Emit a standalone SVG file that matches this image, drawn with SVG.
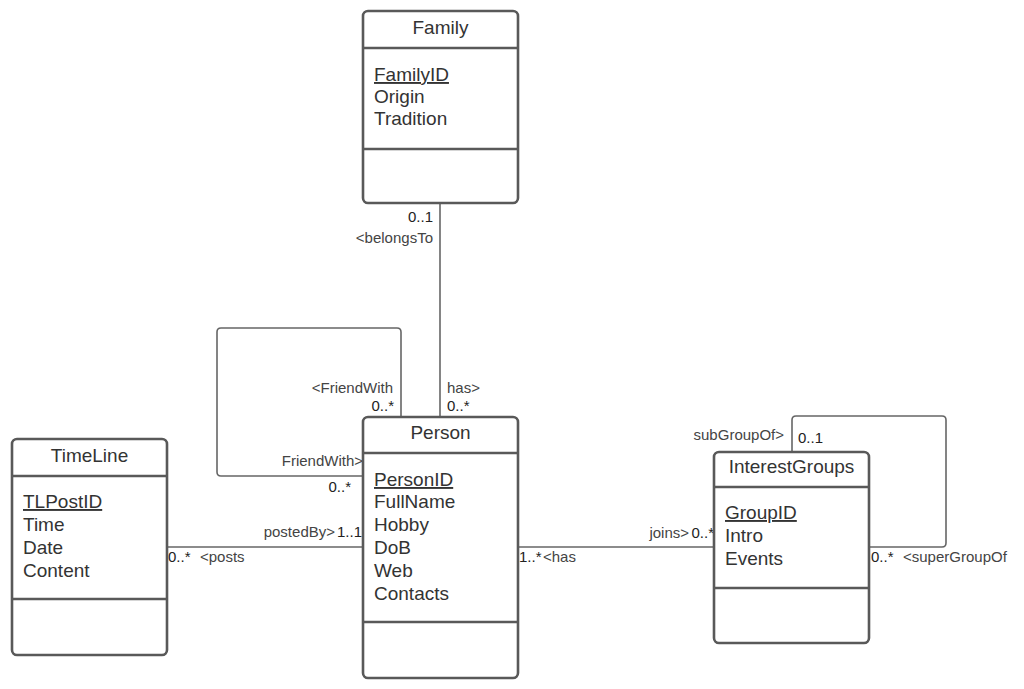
<svg xmlns="http://www.w3.org/2000/svg" width="1024" height="689" viewBox="0 0 1024 689">
<style>
.box{fill:#fff;stroke:#595959;stroke-width:2.6}
.sep{stroke:#595959;stroke-width:2.6}
.title{font-family:"Liberation Sans",Arial,sans-serif;font-size:19px;fill:#333;text-anchor:middle}
.attr{font-family:"Liberation Sans",Arial,sans-serif;font-size:19px;fill:#333}
.pk{text-decoration:underline}
.conn{fill:none;stroke:#666;stroke-width:1.6}
.lbl{font-family:"Liberation Sans",Arial,sans-serif;font-size:15px;fill:#444}
.mul{font-family:"Liberation Sans",Arial,sans-serif;font-size:15px;fill:#222}
.end{text-anchor:end}
</style>
<rect width="1024" height="689" fill="#fff"/>
<g id="connectors">
<path class="conn" d="M440 203 V417"/>
<path class="conn" d="M401 417 V332 Q401 328 397 328 H221 Q217 328 217 332 V472 Q217 476 221 476 H363"/>
<path class="conn" d="M167 547 H363"/>
<path class="conn" d="M518 547 H714"/>
<path class="conn" d="M792 452 V420 Q792 416 796 416 H942 Q946 416 946 420 V543 Q946 547 942 547 H869"/>
<text class="mul end" x="433" y="222">0..1</text>
<text class="lbl end" x="433" y="243">&lt;belongsTo</text>
<text class="lbl" x="447" y="393">has&gt;</text>
<text class="mul" x="447" y="411">0..*</text>
<text class="lbl end" x="393" y="393">&lt;FriendWith</text>
<text class="mul end" x="394" y="411">0..*</text>
<text class="lbl end" x="363" y="466">FriendWith&gt;</text>
<text class="mul end" x="351" y="492">0..*</text>
<text class="lbl end" x="335" y="537">postedBy&gt;</text>
<text class="mul end" x="362" y="537">1..1</text>
<text class="mul" x="168" y="562">0..*</text>
<text class="lbl" x="200" y="562">&lt;posts</text>
<text class="mul" x="519" y="562">1..*</text>
<text class="lbl" x="543" y="562">&lt;has</text>
<text class="lbl end" x="689" y="538">joins&gt;</text>
<text class="mul end" x="714" y="538">0..*</text>
<text class="lbl end" x="784" y="440">subGroupOf&gt;</text>
<text class="mul" x="798" y="443">0..1</text>
<text class="mul" x="871" y="562">0..*</text>
<text class="lbl" x="903" y="562">&lt;superGroupOf</text>
</g>
<g id="family">
<rect class="box" x="363" y="11" width="155" height="192" rx="5"/>
<line class="sep" x1="363" y1="48" x2="518" y2="48"/>
<line class="sep" x1="363" y1="149" x2="518" y2="149"/>
<text class="title" x="440.5" y="34">Family</text>
<text class="attr pk" x="374" y="81">FamilyID</text>
<text class="attr" x="374" y="103">Origin</text>
<text class="attr" x="374" y="125">Tradition</text>
</g>
<g id="person">
<rect class="box" x="363" y="417" width="155" height="261" rx="5"/>
<line class="sep" x1="363" y1="453" x2="518" y2="453"/>
<line class="sep" x1="363" y1="622" x2="518" y2="622"/>
<text class="title" x="440.5" y="439">Person</text>
<text class="attr pk" x="374" y="486">PersonID</text>
<text class="attr" x="374" y="508">FullName</text>
<text class="attr" x="374" y="531">Hobby</text>
<text class="attr" x="374" y="554">DoB</text>
<text class="attr" x="374" y="577">Web</text>
<text class="attr" x="374" y="600">Contacts</text>
</g>
<g id="timeline">
<rect class="box" x="12" y="439" width="155" height="216" rx="5"/>
<line class="sep" x1="12" y1="476" x2="167" y2="476"/>
<line class="sep" x1="12" y1="599" x2="167" y2="599"/>
<text class="title" x="89.5" y="462">TimeLine</text>
<text class="attr pk" x="23" y="508">TLPostID</text>
<text class="attr" x="23" y="531">Time</text>
<text class="attr" x="23" y="554">Date</text>
<text class="attr" x="23" y="577">Content</text>
</g>
<g id="interestgroups">
<rect class="box" x="714" y="452" width="155" height="191" rx="5"/>
<line class="sep" x1="714" y1="487" x2="869" y2="487"/>
<line class="sep" x1="714" y1="588" x2="869" y2="588"/>
<text class="title" x="791.5" y="473">InterestGroups</text>
<text class="attr pk" x="725" y="519">GroupID</text>
<text class="attr" x="725" y="542">Intro</text>
<text class="attr" x="725" y="565">Events</text>
</g>
</svg>
